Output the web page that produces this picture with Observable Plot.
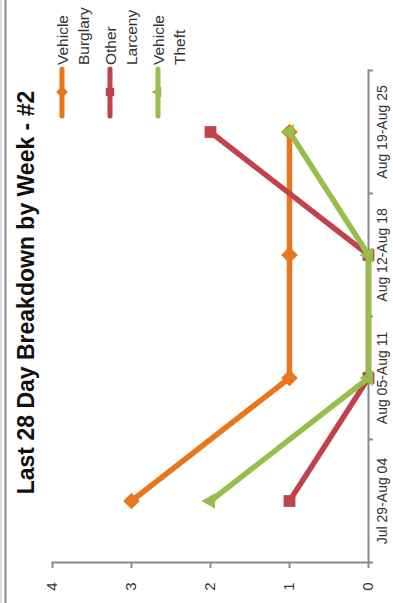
<!DOCTYPE html>
<html><head><meta charset="utf-8">
<script src="https://cdn.jsdelivr.net/npm/d3@7"></script>
<script src="https://cdn.jsdelivr.net/npm/@observablehq/plot@0.6"></script>
<style>
html,body{margin:0;padding:0;background:#fff;overflow:hidden;}
#page{position:absolute;left:0;top:0;width:393px;height:603px;overflow:hidden;background:#fff;}
#chart{position:absolute;left:0;top:0;width:603px;height:393px;transform-origin:0 0;transform:translate(0px,603px) rotate(-90deg);font-family:"Liberation Sans",Arial,sans-serif;}
#chart svg{position:absolute;left:0;top:0;}
</style></head><body>
<div id="page"><div id="chart"></div></div>
<script>
const weeks = ["Jul 29-Aug 04", "Aug 05-Aug 11", "Aug 12-Aug 18", "Aug 19-Aug 25"];
const vehicleBurglary = [3, 1, 1, 1];
const otherLarceny = [1, 0, 0, 2];
const vehicleTheft = [2, 0, 0, 1];
const seriesNames = ["Vehicle Burglary", "Other Larceny", "Vehicle Theft"];
const seriesColors = ["#e8761f", "#c0434b", "#96be4d"];
const seriesSymbols = ["diamond2", "square2", "triangle2"];
const valueTicks = [0, 1, 2, 3, 4];
const title = "Last 28 Day Breakdown by Week - #2";

const W = 603, H = 393, mL = 40, mR = 71, mT = 52, mB = 25;
const bw = (W - mL - mR) / weeks.length;
const seriesValues = [vehicleBurglary, otherLarceny, vehicleTheft];
const rows = seriesNames.flatMap((name, s) => weeks.map((w, i) => ({series: name, week: w, value: seriesValues[s][i]})));

const axisGray = "#8a8a8a";
const textCol = "#333";
const fs = 15;

const marks = [
  Plot.frame({anchor: "left", stroke: axisGray, strokeWidth: 2}),
  Plot.frame({anchor: "bottom", stroke: axisGray, strokeWidth: 2}),
  Plot.axisY(valueTicks, {tickSize: 5, tickPadding: 15, tickFormat: d => String(d), label: null, stroke: axisGray, strokeWidth: 2, fill: textCol, fontSize: fs}),
  Plot.axisX({tickSize: 0, tickPadding: 9, label: null, fill: textCol, fontSize: 14}),
  Plot.axisX({tickSize: 5, tickFormat: () => "", label: null, dx: -bw / 2, stroke: axisGray, strokeWidth: 2}),
  Plot.axisX([weeks[weeks.length - 1]], {tickSize: 5, tickFormat: () => "", label: null, dx: bw / 2, stroke: axisGray, strokeWidth: 2}),
  ...seriesNames.flatMap((name, s) => {
    const d = rows.filter(r => r.series === name);
    return [
      Plot.line(d, {x: "week", y: "value", stroke: seriesColors[s], strokeWidth: 5.5}),
      Plot.dot(d, {x: "week", y: "value", symbol: seriesSymbols[s], r: 7.5, fill: seriesColors[s], stroke: "none"})
    ];
  })
];

const plot = Plot.plot({
  width: W, height: H,
  marginLeft: mL, marginRight: mR, marginTop: mT, marginBottom: mB,
  style: {fontFamily: '"Liberation Sans", Arial, sans-serif', fontSize: fs + "px", background: "transparent", overflow: "visible"},
  x: {type: "band", domain: weeks, padding: 0, label: null},
  y: {domain: [0, 4], label: null},
  marks
});
const chart = document.getElementById("chart");
chart.appendChild(plot);

// Overlay: border, title, legend
const ov = d3.select(chart).append("svg").attr("width", W).attr("height", H).style("overflow", "visible");
ov.append("line").attr("x1", 0).attr("x2", W).attr("y1", 1).attr("y2", 1).attr("stroke", "#cdd5e0").attr("stroke-width", 1.5);
ov.append("line").attr("x1", 0).attr("x2", W).attr("y1", 5.5).attr("y2", 5.5).attr("stroke", "#8c8c8c").attr("stroke-width", 2);
ov.append("text").attr("x", 310.5).attr("y", 34).attr("text-anchor", "middle")
  .attr("font-weight", "bold").attr("font-size", 23).attr("fill", "#111").text(title);

const lg = ov.append("g");
seriesNames.forEach((name, s) => {
  const cy = 62 + s * 48;
  lg.append("line").attr("x1", 487).attr("x2", 534).attr("y1", cy).attr("y2", cy)
    .attr("stroke", seriesColors[s]).attr("stroke-width", 5).attr("stroke-linecap", "round");
  const sym = {diamond2: d3.symbolDiamond2, square2: d3.symbolSquare2, triangle2: d3.symbolTriangle2}[seriesSymbols[s]];
  lg.append("path").attr("d", d3.symbol(sym, 90)()).attr("transform", `translate(511,${cy})`).attr("fill", seriesColors[s]);
  const t = lg.append("text").attr("x", 538).attr("y", cy + 6).attr("font-size", fs + 0.5).attr("fill", textCol);
  name.split(" ").forEach((word, k) => {
    t.append("tspan").attr("x", 538).attr("dy", k === 0 ? 0 : 21).text(word);
  });
});
</script>
</body></html>
